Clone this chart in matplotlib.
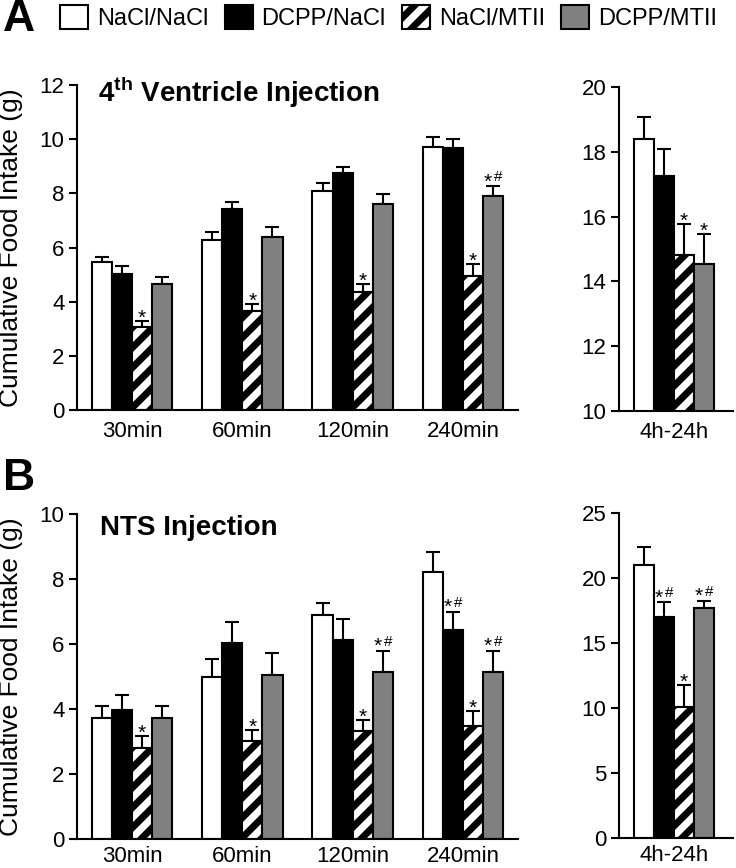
import matplotlib
matplotlib.use("Agg")
import matplotlib.pyplot as plt
import numpy as np
from matplotlib.patches import Patch
from matplotlib.backend_bases import GraphicsContextBase

# ---------------- data ----------------
time_labels = ['30min', '60min', '120min', '240min']
day_label = ['4h-24h']
series = ['NaCl/NaCl', 'DCPP/NaCl', 'NaCl/MTII', 'DCPP/MTII']

# Panel A: 4th ventricle injection
a_nacl_nacl = [5.48, 6.28, 8.07, 9.70]
a_dcpp_nacl = [5.02, 7.42, 8.74, 9.67]
a_nacl_mtii = [3.05, 3.66, 4.34, 4.94]
a_dcpp_mtii = [4.64, 6.40, 7.59, 7.91]
a_nacl_nacl_err = [0.18, 0.29, 0.31, 0.39]
a_dcpp_nacl_err = [0.28, 0.27, 0.24, 0.33]
a_nacl_mtii_err = [0.22, 0.24, 0.31, 0.45]
a_dcpp_mtii_err = [0.27, 0.37, 0.37, 0.36]
a_24h = [18.40, 17.24, 14.82, 14.53]
a_24h_err = [0.67, 0.84, 0.95, 0.93]
a_sig_nacl_nacl = ['', '', '', '']
a_sig_dcpp_nacl = ['', '', '', '']
a_sig_nacl_mtii = ['*', '*', '*', '*']
a_sig_dcpp_mtii = ['', '', '', '*#']
a_sig_24h = ['', '', '*', '*']

# Panel B: NTS injection
b_nacl_nacl = [3.72, 4.98, 6.90, 8.21]
b_dcpp_nacl = [3.96, 6.04, 6.11, 6.44]
b_nacl_mtii = [2.81, 3.02, 3.31, 3.47]
b_dcpp_mtii = [3.72, 5.04, 5.13, 5.13]
b_nacl_nacl_err = [0.37, 0.56, 0.37, 0.61]
b_dcpp_nacl_err = [0.48, 0.64, 0.65, 0.55]
b_nacl_mtii_err = [0.35, 0.34, 0.35, 0.46]
b_dcpp_mtii_err = [0.37, 0.68, 0.67, 0.67]
b_24h = [20.97, 17.00, 10.10, 17.67]
b_24h_err = [1.44, 1.13, 1.67, 0.59]
b_sig_nacl_nacl = ['', '', '', '']
b_sig_dcpp_nacl = ['', '', '', '*#']
b_sig_nacl_mtii = ['*', '*', '*', '*']
b_sig_dcpp_mtii = ['', '', '*#', '*#']
b_sig_24h = ['', '*#', '*', '*#']

# ---------------- style ----------------
_orig_hatch = GraphicsContextBase.get_hatch_path
def _hatch_path(self, density=10.0):
    return _orig_hatch(self, density)
GraphicsContextBase.get_hatch_path = _hatch_path

plt.rcParams['font.family'] = ['Liberation Sans', 'DejaVu Sans']
plt.rcParams['mathtext.fontset'] = 'custom'
plt.rcParams['mathtext.rm'] = 'Liberation Sans'
plt.rcParams['mathtext.bf'] = 'Liberation Sans:bold'
plt.rcParams['hatch.linewidth'] = 5.0
plt.rcParams['hatch.color'] = 'black'

faces = ['white', 'black', 'white', '#808080']
hatches = [None, None, '/', None]
W = 0.182
offsets = [-1.5 * W, -0.5 * W, 0.5 * W, 1.5 * W]

fig = plt.figure(figsize=(7.36, 8.68), dpi=100)
axA = fig.add_axes([77 / 736, 1 - 410 / 868, 441 / 736, 325 / 868])
axA2 = fig.add_axes([619 / 736, 1 - 411 / 868, 114 / 736, 324 / 868])
axB = fig.add_axes([77 / 736, 1 - 839 / 868, 441 / 736, 325 / 868])
axB2 = fig.add_axes([619 / 736, 1 - 838 / 868, 114 / 736, 325 / 868])


def mark(ax, xx, top, s):
    if s == '*':
        ax.annotate('*', (xx, top), xytext=(0, -2),
                    textcoords='offset points', ha='center',
                    va='baseline', fontsize=15)
    elif s == '*#':
        ax.annotate('*', (xx, top), xytext=(-3.8, -1),
                    textcoords='offset points', ha='center',
                    va='baseline', fontsize=15)
        ax.annotate('#', (xx, top), xytext=(3.8, 3.5),
                    textcoords='offset points', ha='center',
                    va='baseline', fontsize=11)


def draw(ax, cats, vals, errs, sigs, xpad=8):
    x = np.arange(len(cats))
    for i in range(4):
        xi = x + offsets[i]
        ax.bar(xi, vals[i], W, color=faces[i], edgecolor='black',
               linewidth=1.5, hatch=hatches[i], zorder=2)
        ax.errorbar(xi, vals[i], yerr=[np.zeros(len(cats)), errs[i]],
                    fmt='none', ecolor='black', elinewidth=1.5,
                    capsize=5, capthick=1.5, zorder=1)
        for xx, v, e, s in zip(xi, vals[i], errs[i], sigs[i]):
            if s:
                mark(ax, xx, v + e, s)
    ax.set_xticks(x)
    ax.set_xticklabels(cats)
    for sp in ['top', 'right']:
        ax.spines[sp].set_visible(False)
    for sp in ['left', 'bottom']:
        ax.spines[sp].set_linewidth(1.5)
    ax.tick_params(axis='x', length=0, pad=xpad, labelsize=16)
    ax.tick_params(axis='y', length=6, width=1.5, pad=3, labelsize=16,
                   direction='out')


draw(axA, time_labels,
     [a_nacl_nacl, a_dcpp_nacl, a_nacl_mtii, a_dcpp_mtii],
     [a_nacl_nacl_err, a_dcpp_nacl_err, a_nacl_mtii_err, a_dcpp_mtii_err],
     [a_sig_nacl_nacl, a_sig_dcpp_nacl, a_sig_nacl_mtii, a_sig_dcpp_mtii])
axA.set_xlim(-0.5, 3.5)
axA.set_ylim(0, 12)
axA.set_yticks(range(0, 13, 2))

draw(axA2, day_label, [[v] for v in a_24h], [[e] for e in a_24h_err],
     [[s] for s in a_sig_24h])
axA2.set_xlim(-0.5, 0.54)
axA2.set_ylim(10, 20)
axA2.set_yticks(range(10, 21, 2))

draw(axB, time_labels,
     [b_nacl_nacl, b_dcpp_nacl, b_nacl_mtii, b_dcpp_mtii],
     [b_nacl_nacl_err, b_dcpp_nacl_err, b_nacl_mtii_err, b_dcpp_mtii_err],
     [b_sig_nacl_nacl, b_sig_dcpp_nacl, b_sig_nacl_mtii, b_sig_dcpp_mtii],
     xpad=5)
axB.set_xlim(-0.5, 3.5)
axB.set_ylim(0, 10)
axB.set_yticks(range(0, 11, 2))

draw(axB2, day_label, [[v] for v in b_24h], [[e] for e in b_24h_err],
     [[s] for s in b_sig_24h], xpad=5)
axB2.set_xlim(-0.5, 0.54)
axB2.set_ylim(0, 25)
axB2.set_yticks(range(0, 26, 5))

for ax in (axA, axB):
    ax.set_ylabel('Cumulative Food Intake (g)', fontsize=19)
    ax.yaxis.set_label_coords(-0.122, 0.5)

axA.text(0.047, 0.948, '4$^{\\mathbf{th}}$ Ventricle Injection',
         transform=axA.transAxes, fontsize=20, fontweight='bold',
         ha='left', va='baseline')
axB.text(0.052, 0.935, 'NTS Injection', transform=axB.transAxes,
         fontsize=20, fontweight='bold', ha='left', va='baseline')

fig.text(0.004, 0.978, 'A', fontsize=32, fontweight='bold',
         ha='left', va='center')
fig.text(0.004, 0.449, 'B', fontsize=32, fontweight='bold',
         ha='left', va='center')

handles = [Patch(facecolor=faces[i], edgecolor='black', linewidth=1.5,
                 hatch=hatches[i], label=series[i]) for i in range(4)]
fig.legend(handles=handles, loc='center', bbox_to_anchor=(0.528, 0.98),
           ncol=4, frameon=False, fontsize=17, handlelength=1.19,
           handleheight=1.23, handletextpad=0.38, columnspacing=0.68,
           borderpad=0, borderaxespad=0)

fig.savefig('out.png', dpi=100)
